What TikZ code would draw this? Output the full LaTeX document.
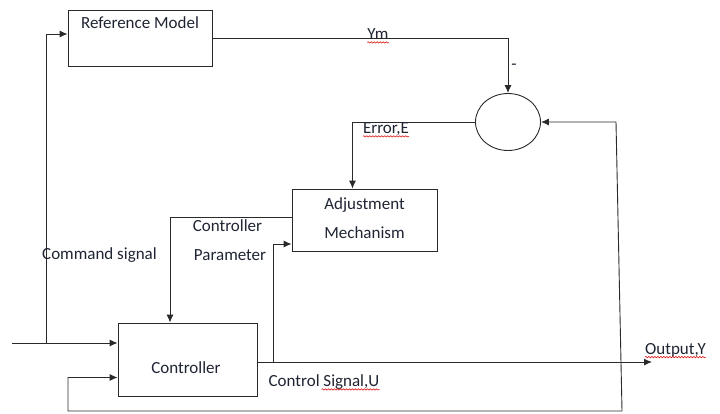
\documentclass[tikz,border=0pt]{standalone}
\usepackage{fontspec}
\setmainfont{Carlito}
\usepackage{xcolor}
\usetikzlibrary{calc,positioning,arrows.meta,shapes.geometric,decorations.pathmorphing}

\definecolor{ink}{HTML}{1F2433}
\definecolor{wire}{HTML}{2A2A2A}

\tikzset{
	block/.style={draw=wire, line width=0.9pt},
	lbl/.style={text=ink, font=\fontsize{17}{29}\selectfont, inner sep=0pt},
	flow/.style={draw=wire, line width=0.9pt, -{Latex[length=8pt,width=7pt]}},
	spell/.style={draw=red!85!black, line width=0.5pt, decorate,
		decoration={snake, amplitude=0.7pt, segment length=3pt}}
}

\begin{document}
\begin{tikzpicture}[x=1pt,y=-1pt]
		\useasboundingbox (0,0) rectangle (720,413);
		
		% Blocks
		\node[block, minimum width=144pt, minimum height=56pt] (refmodel) at (140,38) {};
		\node[lbl] (refmodeltext) at (140,23) {Reference Model};
		\node[block, minimum width=145pt, minimum height=62pt, align=center] (adjust) at (364.5,220) {};
		\node[lbl, align=center] (adjusttext) at (364.5,218) {Adjustment\\Mechanism};
		\node[block, minimum width=139pt, minimum height=73pt] (controller) at (187.5,359.5) {};
		\node[lbl] (controllertext) at (186,368) {Controller};
		
		% Comparator
		\node[block, ellipse, minimum width=65pt, minimum height=57pt] (sum) at (508,122) {};
		
		% Free ends and branch points
		\coordinate (input) at (12,343);
		\coordinate (branch) at (46,343);
		\coordinate (output) at (652,362);
		\coordinate (tap) at (273,362);
		\coordinate (fbtop) at (616,122);
		\coordinate (fbcorner) at (622,411);
		\coordinate (fbleft) at (68,411);
		
		% Model output to comparator
		\draw[flow] (refmodel.east) -| (sum.north);
		\node[lbl] (ymlabel) at (378,34) {Ym};
		\node[lbl] (minuslabel) at (514,67) {-};
		
		% Error to adjustment
		\draw[flow] (sum.west) -| ([xshift=-12pt]adjust.north);
		\node[lbl] (errorlabel) at (386,129) {Error,E};
		
		% Controller parameter
		\draw[flow] ([yshift=3pt]adjust.west) -| ([xshift=-17.5pt]controller.north);
		\node[lbl] (paramtop) at (227.5,226) {Controller};
		\node[lbl] (parambottom) at (230,255) {Parameter};
		
		% Command signal
		\draw[flow] (input) -- (input -| controller.west);
		\draw[flow] (branch) |- ([yshift=4pt]refmodel.west);
		\node[lbl] (commandlabel) at (99.5,255) {Command signal};
		
		% Control signal and output
		\draw[flow] (controller.east |- output) -- (output);
		\draw[flow] (tap) |- ([yshift=-24pt]adjust.west);
		\node[lbl] (ctrlsignal) at (324,382) {Control Signal,U};
		\node[lbl] (outputlabel) at (675.5,350) {Output,Y};
		
		% Feedback loop
		\draw[flow, {Latex[length=8pt,width=7pt]}-{Latex[length=8pt,width=7pt]}] (sum.east) -- (fbtop) -- (fbcorner) -- (fbleft) |- ([yshift=-18pt]controller.west);
		
		% Spell-check marks
		\draw[spell] ([yshift=-3pt]ymlabel.base west) -- ([yshift=-3pt]ymlabel.base east);
		\draw[spell] ([yshift=-3pt]errorlabel.base west) -- ([yshift=-3pt]errorlabel.base east);
		\draw[spell] ([xshift=-58pt,yshift=-3pt]ctrlsignal.base east) -- ([yshift=-3pt]ctrlsignal.base east);
		\draw[spell] ([yshift=-3pt]outputlabel.base west) -- ([yshift=-3pt]outputlabel.base east);
	\end{tikzpicture}
\end{document}
